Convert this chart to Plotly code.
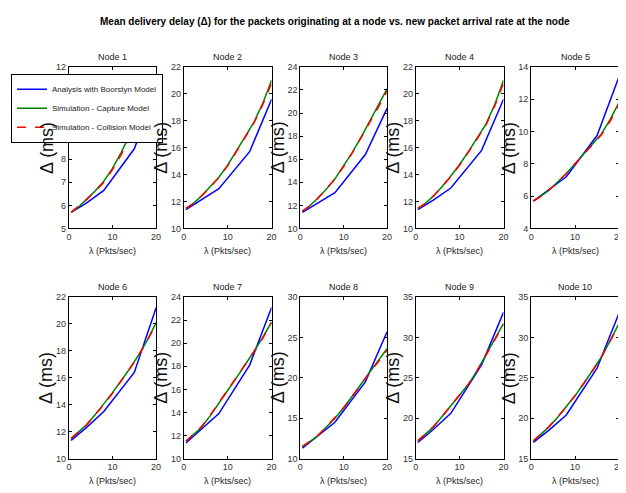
import plotly.graph_objects as go

OFF = 8  # default page body margin in the browser
W, H = 626 - OFF, 493 - OFF

node_names = ["Node 1", "Node 2", "Node 3", "Node 4", "Node 5",
              "Node 6", "Node 7", "Node 8", "Node 9", "Node 10"]

sim_x = [0.5, 2, 4, 6, 8, 10, 12, 14, 16, 18, 20]
ana_x = [0.5, 4, 8, 15, 20]

analysis_delay = [
    [5.7, 6.1, 6.65, 8.45, 11.0],
    [11.4, 12.1, 12.95, 15.7, 19.6],
    [11.4, 12.2, 13.1, 16.4, 20.4],
    [11.4, 12.1, 13.0, 15.8, 19.6],
    [5.7, 6.4, 7.2, 9.75, 13.4],
    [11.35, 12.3, 13.5, 16.4, 21.2],
    [11.35, 12.5, 13.9, 18.1, 23.1],
    [11.3, 12.8, 14.5, 19.5, 25.7],
    [17.0, 18.6, 20.6, 26.6, 33.1],
    [17.0, 18.5, 20.4, 26.2, 33.0],
]

capture_delay = [
    [5.7, 5.9, 6.25, 6.62, 7.05, 7.6, 8.3, 9.05, 9.85, 10.65, 11.55],
    [11.5, 11.8, 12.4, 13.1, 13.8, 14.7, 15.75, 16.8, 17.9, 19.3, 21.0],
    [11.5, 11.9, 12.6, 13.4, 14.3, 15.4, 16.6, 17.9, 19.3, 20.6, 22.1],
    [11.5, 11.8, 12.4, 13.1, 13.9, 14.75, 15.7, 16.7, 17.75, 19.2, 21.0],
    [5.7, 5.95, 6.35, 6.85, 7.4, 8.0, 8.6, 9.2, 9.85, 10.75, 11.8],
    [11.5, 11.9, 12.5, 13.25, 14.05, 14.9, 15.8, 16.7, 17.7, 18.8, 20.1],
    [11.5, 12.0, 12.7, 13.7, 14.85, 15.9, 17.0, 18.1, 19.3, 20.5, 21.85],
    [11.5, 12.0, 12.8, 13.85, 15.0, 16.3, 17.7, 19.2, 20.7, 22.1, 23.6],
    [17.2, 17.9, 18.9, 20.2, 21.5, 22.8, 24.2, 25.9, 27.9, 29.8, 31.75],
    [17.2, 17.9, 18.9, 20.1, 21.4, 22.8, 24.3, 25.9, 27.6, 29.6, 31.75],
]

collision_delay = [
    [5.7, 5.92, 6.25, 6.6, 7.0, 7.55, 8.2, 8.95, 9.75, 10.5, 11.35],
    [11.5, 11.8, 12.4, 13.05, 13.8, 14.65, 15.7, 16.75, 17.85, 19.2, 20.8],
    [11.5, 11.9, 12.6, 13.4, 14.3, 15.35, 16.55, 17.85, 19.2, 20.5, 21.9],
    [11.5, 11.8, 12.4, 13.1, 13.85, 14.7, 15.65, 16.65, 17.7, 19.1, 20.8],
    [5.7, 5.95, 6.35, 6.85, 7.4, 8.0, 8.6, 9.2, 9.8, 10.65, 11.7],
    [11.5, 11.9, 12.5, 13.25, 14.0, 14.85, 15.75, 16.7, 17.65, 18.75, 19.95],
    [11.5, 12.0, 12.75, 13.75, 14.85, 15.9, 17.0, 18.1, 19.25, 20.45, 21.75],
    [11.5, 12.05, 12.85, 13.9, 15.05, 16.3, 17.7, 19.2, 20.65, 22.0, 23.4],
    [17.2, 17.95, 18.95, 20.2, 21.5, 22.8, 24.2, 25.9, 27.8, 29.7, 31.6],
    [17.2, 17.95, 18.95, 20.15, 21.4, 22.8, 24.3, 25.9, 27.55, 29.5, 31.6],
]

y_ranges = [[5, 12], [10, 22], [10, 24], [10, 22], [4, 14],
            [10, 22], [10, 24], [10, 30], [15, 35], [15, 35]]
y_dticks = [1, 2, 2, 2, 2, 2, 2, 5, 5, 5]
x_ticks = [0, 10, 20]
# node 1 tick labels that sit behind the legend box in the reference
node1_hidden_ticks = [10, 11]

series_names = ["Analysis with Boorstyn Model",
                "Simulation - Capture Model",
                "Simulation - Collision Model"]

FONT = "Liberation Sans, Arial, sans-serif"

# pixel layout of panels (window coordinates)
col_px = [(66.7, 155), (183, 272), (301, 389), (418, 507), (535, 624)]
row_px = [(63, 228), (298, 463)]


def px(xp):
    return (xp - OFF) / W


def py(yp):
    return 1 - (yp - OFF) / H


fig = go.Figure()
annotations = []
layout = {}

for i in range(10):
    r, c = divmod(i, 5)
    ax = "" if i == 0 else str(i + 1)
    x0, x1 = col_px[c]
    y0, y1 = row_px[r]
    show = (i == 0)
    fig.add_trace(go.Scatter(x=ana_x, y=analysis_delay[i], mode="lines",
                             line=dict(color="#0000ff", width=1.5),
                             name=series_names[0], showlegend=show,
                             xaxis="x" + ax, yaxis="y" + ax))
    fig.add_trace(go.Scatter(x=sim_x, y=capture_delay[i], mode="lines",
                             line=dict(color="#008000", width=1.5),
                             name=series_names[1], showlegend=show,
                             xaxis="x" + ax, yaxis="y" + ax))
    fig.add_trace(go.Scatter(x=sim_x, y=collision_delay[i], mode="lines",
                             line=dict(color="#ff0000", width=1.5, dash="dash"),
                             name=series_names[2], showlegend=show,
                             xaxis="x" + ax, yaxis="y" + ax))
    common = dict(showline=True, linecolor="black", linewidth=1, mirror="ticks",
                  ticks="inside", ticklen=3, tickcolor="black", showgrid=False,
                  zeroline=False, tickfont=dict(family=FONT, size=9, color="#333333"))
    layout["xaxis" + ax] = dict(domain=[px(x0), px(x1)], range=[0, 20],
                                tickvals=x_ticks, anchor="y" + ax, **common)
    ya = dict(domain=[py(y1), py(y0)], range=y_ranges[i], anchor="x" + ax, **common)
    lo, hi = y_ranges[i]
    tv = list(range(lo, hi + 1, y_dticks[i]))
    ya["tickvals"] = tv
    if i == 0:
        ya["ticktext"] = ["" if v in node1_hidden_ticks else str(v) for v in tv]
    layout["yaxis" + ax] = ya
    xc = (x0 + x1) / 2
    annotations.append(dict(text=node_names[i], x=px(xc), y=py(y0 - 10),
                            xref="paper", yref="paper", showarrow=False,
                            xanchor="center", yanchor="middle",
                            font=dict(family=FONT, size=9, color="#222222")))
    annotations.append(dict(text="λ (Pkts/sec)", x=px(xc), y=py(y1 + 23),
                            xref="paper", yref="paper", showarrow=False,
                            xanchor="center", yanchor="middle",
                            font=dict(family=FONT, size=9, color="#222222")))
    annotations.append(dict(text="Δ (ms)", x=px(x0 - 23), y=py((y0 + y1) / 2),
                            xref="paper", yref="paper", showarrow=False,
                            xanchor="center", yanchor="middle", textangle=-90,
                            font=dict(family=FONT, size=18, color="#111111")))

annotations.append(dict(
    text="<b>Mean delivery delay (Δ) for the packets originating at a node vs. new packet arrival rate at the node</b>",
    x=px(336), y=py(17), xref="paper", yref="paper", showarrow=False,
    xanchor="center", yanchor="middle",
    font=dict(family=FONT, size=10, color="#000000")))

fig.update_layout(
    width=W, height=H,
    margin=dict(l=0, r=0, t=0, b=0),
    paper_bgcolor="white", plot_bgcolor="white",
    annotations=annotations,
    legend=dict(x=0, y=py(70), xanchor="left", yanchor="top",
                bgcolor="white", bordercolor="black", borderwidth=1,
                font=dict(family=FONT, size=8, color="#222222"),
                tracegroupgap=0, itemwidth=30),
    **layout,
)

fig.write_html("out.html")
